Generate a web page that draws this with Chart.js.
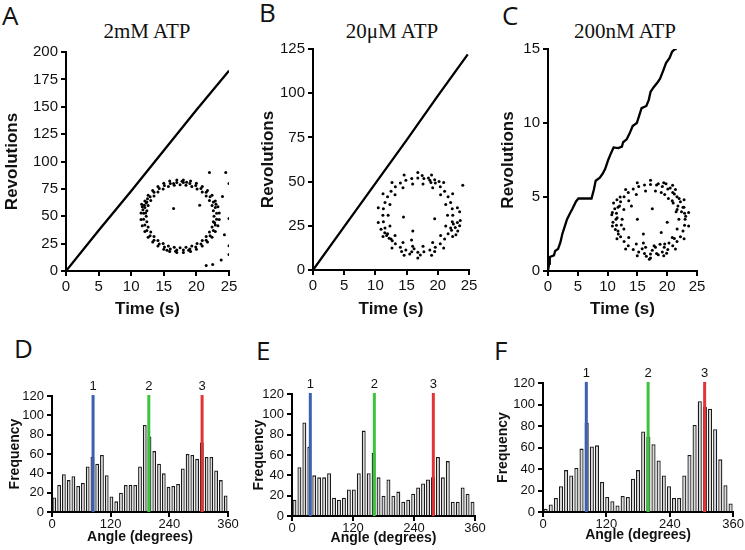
<!DOCTYPE html>
<html>
<head>
<meta charset="utf-8">
<script src="https://cdn.jsdelivr.net/npm/chart.js@4.4.1/dist/chart.umd.min.js"></script>
<style>
body{margin:0;background:#fff;width:745px;height:550px;position:relative;overflow:hidden}
canvas{position:absolute}
.lt{position:absolute;font-family:"Open Sans",sans-serif;font-size:26px;line-height:1;color:#111}
.tt{position:absolute;font-family:"Liberation Serif",serif;font-size:21px;line-height:1;color:#111;transform:translateX(-50%);white-space:nowrap}
</style>
</head>
<body>
<div class="lt" style="left:2px;top:2px">A</div>
<div class="lt" style="left:259px;top:-1px">B</div>
<div class="lt" style="left:502px;top:2px">C</div>
<div class="lt" style="left:14px;top:335px">D</div>
<div class="lt" style="left:256px;top:337px">E</div>
<div class="lt" style="left:494px;top:337px">F</div>
<div class="tt" style="left:147px;top:21px">2mM ATP</div>
<div class="tt" style="left:392px;top:21px">20μM ATP</div>
<div class="tt" style="left:625px;top:21px">200nM ATP</div>

<canvas id="cA"></canvas>
<canvas id="cB"></canvas>
<canvas id="cC"></canvas>
<canvas id="cD"></canvas>
<canvas id="cE"></canvas>
<canvas id="cF"></canvas>

<script>
// revolutions vs time traces
var traceA = [[0,0],[5,37],[10,73],[15,110],[20,147],[25,183]];
var traceB = [[0,0],[5,24.5],[10,49],[15,73.5],[20,98.5],[24.8,122]];
var traceC = [[0,0],[0.2,0.5],[0.3,0.95],[1,1.06],[1.2,1.35],[1.7,1.5],[2.1,1.96],[2.4,2.5],[2.8,3],[3.2,3.5],[3.7,3.9],[4.1,4.2],[4.7,4.7],[5.1,4.9],[6.5,4.9],[7.3,4.9],[7.7,5.5],[8.0,6.1],[8.7,6.3],[9.2,6.6],[9.6,6.9],[10.1,7.5],[10.5,7.9],[11,8.35],[11.8,8.3],[12.4,8.4],[12.6,8.7],[13.2,8.9],[13.7,9.3],[14.2,9.8],[14.9,10],[15.3,10.5],[15.7,11],[16.5,11.15],[16.9,11.55],[17.2,12.1],[17.7,12.4],[18.3,12.7],[18.8,13],[19.3,13.5],[19.8,14.05],[20.4,14.4],[20.8,14.8],[21.3,15],[21.6,15]];

// inset rings (in each panel's axis units)
var ringA = [[22.7,50],[22.6,55],[22.4,59.9],[22,64.4],[21.5,68.5],[20.9,72.1],[20.1,74.9],[19.3,77.1],[18.4,78.4],[17.5,78.8],[16.6,78.4],[15.7,77.1],[14.9,74.9],[14.1,72.1],[13.5,68.5],[13,64.4],[12.6,59.9],[12.4,55],[12.3,50],[12.4,45],[12.6,40.1],[13,35.6],[13.5,31.5],[14.1,27.9],[14.9,25.1],[15.7,22.9],[16.6,21.6],[17.5,21.2],[18.4,21.6],[19.3,22.9],[20.1,25.1],[20.9,27.9],[21.5,31.5],[22,35.6],[22.4,40.1],[22.6,45],
  [23.5,52.9],[23.3,58.6],[22.9,64],[22.4,69.1],[21.7,73.5],[20.9,77.2],[20,80.1],[19.1,82.1],[18,83.1],[17,83.1],[15.9,82.1],[15,80.1],[14.1,77.2],[13.3,73.5],[12.6,69.1],[12.1,64],[11.7,58.6],[11.5,52.9],[11.5,47.1],[11.7,41.4],[12.1,36],[12.6,30.9],[13.3,26.5],[14.1,22.8],[15,19.9],[15.9,17.9],[17,16.9],[18,16.9],[19.1,17.9],[20,19.9],[20.9,22.8],[21.7,26.5],[22.4,30.9],[22.9,36],[23.3,41.4],[23.5,47.1],
  [23.1,52.7],[22.9,58],[22.6,63.1],[22.1,67.8],[21.5,71.9],[20.7,75.4],[19.9,78.1],[19,79.9],[18,80.9],[17,80.9],[16,79.9],[15.1,78.1],[14.3,75.4],[13.5,71.9],[12.9,67.8],[12.4,63.1],[12.1,58],[11.9,52.7],[11.9,47.3],[12.1,42],[12.4,36.9],[12.9,32.2],[13.5,28.1],[14.3,24.6],[15.1,21.9],[16,20.1],[17,19.1],[18,19.1],[19,20.1],[19.9,21.9],[20.7,24.6],[21.5,28.1],[22.1,32.2],[22.6,36.9],[22.9,42],[23.1,47.3],
  [12.0,60],[12.3,62],[11.8,56],[12.5,66],[12.2,53],[11.6,61],[16.5,80],[18.5,81],[17.8,82],[15.5,19],[16.8,18],[18.8,19],[22.8,44],[23,61],
  [24.5,90],[22,90],[25,80],[24,68],[25,48],[25,23],[25,15],[21.5,5],[22.5,6],[20.5,60],[16.5,57],[24.3,33],[23.8,10]];
var ringB = [[21.56,31],[21.27,37.1],[20.45,42.5],[19.18,46.5],[17.63,48.6],[15.97,48.6],[14.42,46.5],[13.15,42.5],[12.33,37.1],[12.04,31],[12.33,24.9],[13.15,19.5],[14.42,15.5],[15.97,13.4],[17.63,13.4],[19.18,15.5],[20.45,19.5],[21.27,24.9],
  [23.14,35.2],[22.38,43.1],[20.94,49.5],[19,53.7],[16.8,55.15],[14.6,53.7],[12.66,49.5],[11.22,43.1],[10.46,35.2],[10.46,26.8],[11.22,18.9],[12.66,12.5],[14.6,8.3],[16.8,6.85],[19,8.3],[20.94,12.5],[22.38,18.9],[23.14,26.8],
  [22.32,34.65],[21.65,41.5],[20.4,47.1],[18.72,50.7],[16.8,52],[14.88,50.7],[13.2,47.1],[11.95,41.5],[11.28,34.65],[11.28,27.35],[11.95,20.5],[13.2,14.9],[14.88,11.3],[16.8,10],[18.72,11.3],[20.4,14.9],[21.65,20.5],[22.32,27.35],
  [22.4,31],[22.06,38.2],[21.09,44.5],[19.6,49.2],[17.77,51.7],[15.83,51.7],[14,49.2],[12.51,44.5],[11.54,38.2],[11.2,31],[11.54,23.8],[12.51,17.5],[14,12.8],[15.83,10.3],[17.77,10.3],[19.6,12.8],[21.09,17.5],[22.06,23.8],
  [22.8,24],[23.2,22],[22.5,26],[23.5,25],[22.9,20],[23.6,28],[22.2,22.5],[11.5,21],[12.2,18],[10.9,23],[12.7,16.5],[11.8,19.5],[18.5,52],[19.5,51],[17.5,53.5],[20.2,50],[18.9,49.5],[15.5,9],[17.2,8.5],[19.5,10.5],[16.2,12],[14.2,10.5],[16,22],[14.5,30],[19.5,29],[15.8,17],[24,48],[23.5,33]];
var ringC = [[21.96,3.5],[21.67,4.16],[20.85,4.74],[19.58,5.17],[18.03,5.4],[16.37,5.4],[14.82,5.17],[13.55,4.74],[12.73,4.16],[12.44,3.5],[12.73,2.84],[13.55,2.26],[14.82,1.83],[16.37,1.6],[18.03,1.6],[19.58,1.83],[20.85,2.26],[21.67,2.84],
  [22.91,3.91],[22.22,4.68],[20.93,5.3],[19.18,5.71],[17.2,5.85],[15.22,5.71],[13.47,5.3],[12.18,4.68],[11.49,3.91],[11.49,3.09],[12.18,2.32],[13.47,1.7],[15.22,1.29],[17.2,1.15],[19.18,1.29],[20.93,1.7],[22.22,2.32],[22.91,3.09],
  [23,3.5],[22.65,4.3],[21.64,5.01],[20.1,5.54],[18.21,5.81],[16.19,5.81],[14.3,5.54],[12.76,5.01],[11.75,4.3],[11.4,3.5],[11.75,2.7],[12.76,1.99],[14.3,1.46],[16.19,1.19],[18.21,1.19],[20.1,1.46],[21.64,1.99],[22.65,2.7],
  [23.6,3.96],[22.83,4.82],[21.38,5.51],[19.42,5.97],[17.2,6.13],[14.98,5.97],[13.02,5.51],[11.57,4.82],[10.8,3.96],[10.8,3.04],[11.57,2.18],[13.02,1.49],[14.98,1.03],[17.2,0.87],[19.42,1.03],[21.38,1.49],[22.83,2.18],[23.6,3.04],
  [20.5,5.6],[21.2,5.2],[19.8,5.9],[22,4.9],[21.8,4.4],[20.2,4.9],[22.4,4],[19,5.3],[21,4.6],[22.8,4.3],[18.5,5.9],[20.9,5.8],[21.5,4],[23.1,3.7],
  [11.2,4.2],[11.6,3.6],[10.9,3.3],[12,4.4],[11.3,2.8],[12.3,3.1],[11,4.6],[12.1,5],[11.8,2.5],[10.7,3.8],
  [16.5,1],[17.5,1.4],[18.5,1.1],[19.5,1.6],[15.8,1.5],[17,0.8],[18.8,1.8],[20.3,1.9],[16,1.9],[19.9,1.2],[17.8,1.7],[21.2,2.2],
  [15,3.5],[17.5,4.2],[19,2.6],[16,2.5],[20,3.3],[14,4.4]];

// angle histograms (37 bins over 0-360)
var histD = [15,28,39,33,37,27,30,47,57,50,59,38,16,11,20,28,28,28,47,90,78,63,50,40,26,27,29,45,60,59,55,72,57,57,43,33,17];
var histE = [16,48,92,68,40,38,38,42,18,16,18,26,26,42,84,42,62,38,20,36,20,24,14,16,22,28,32,36,38,58,38,54,14,14,28,22,14];
var histF = [3,7,13,24,39,34,41,59,83,61,62,28,14,10,6,15,14,31,39,75,70,63,48,34,24,13,13,34,53,81,103,98,96,77,49,25,8];

var markD = [84,198,307];
var markE = [36,162,278];
var markF = [82,199,306];
var markLabels = ['1','2','3'];
var markColors = ['#3b5fb3','#3cc43c','#e23434'];
var markTop = 121;

Chart.defaults.font.family = '"Liberation Sans", Arial, sans-serif';
Chart.defaults.color = '#111';

function toXY(arr){ return arr.map(function(p){ return {x:p[0], y:p[1]}; }); }

var markerPlugin = {
  id: 'markers',
  afterDatasetsDraw: function(chart, args, opts){
    if(!opts.angles) return;
    var ctx = chart.ctx, x = chart.scales.x, y = chart.scales.y;
    opts.angles.forEach(function(a, i){
      var px = x.getPixelForValue(a);
      var top = y.getPixelForValue(markTop);
      ctx.save();
      ctx.strokeStyle = markColors[i];
      ctx.lineWidth = 3;
      ctx.beginPath();
      ctx.moveTo(px, y.getPixelForValue(0));
      ctx.lineTo(px, top);
      ctx.stroke();
      ctx.fillStyle = '#111';
      ctx.font = '13px "Liberation Sans", Arial';
      ctx.textAlign = 'center';
      ctx.textBaseline = 'bottom';
      ctx.fillText(markLabels[i], px, top - 2);
      ctx.restore();
    });
  }
};

// place a canvas so that its chart area lands on [l,t,r,b] of the page
function setup(id, left, top, w, h, area){
  var c = document.getElementById(id);
  c.width = w; c.height = h;
  c.style.left = left + 'px'; c.style.top = top + 'px';
  return {
    ctx: c,
    yW: area[0] - left,
    padTop: area[1] - top,
    padRight: left + w - area[2],
    xH: top + h - area[3]
  };
}

function axisX(min, max, step, title, tickSize, titleSize, fixH, tickPad){
  return {
    type: 'linear', min: min, max: max, offset: false,
    ticks: {stepSize: step, font: {size: tickSize, lineHeight: 1}, padding: tickPad, maxRotation: 0, color: '#111'},
    grid: {display: true, drawOnChartArea: false, drawTicks: true, tickLength: 5, color: '#000', lineWidth: 2, offset: false},
    border: {display: true, color: '#000', width: 2},
    title: {display: true, text: title, font: {size: titleSize, weight: 'bold'}, padding: {top: 0, bottom: 2}, color: '#111'},
    afterFit: function(s){ s.height = fixH; }
  };
}
function axisY(min, max, step, title, tickSize, titleSize, fixW){
  return {
    min: min, max: max,
    ticks: {stepSize: step, font: {size: tickSize}, padding: 3, color: '#111'},
    grid: {display: true, drawOnChartArea: false, drawTicks: true, tickLength: 5, color: '#000', lineWidth: 2},
    border: {display: true, color: '#000', width: 2},
    title: {display: true, text: title, font: {size: titleSize, weight: 'bold'}, padding: {top: 2, bottom: 0}, color: '#111'},
    afterFit: function(s){ s.width = fixW; }
  };
}

function topChart(id, left, top, w, h, area, trace, ring, yMax, yStep){
  var g = setup(id, left, top, w, h, area);
  new Chart(g.ctx, {
    type: 'scatter',
    data: {datasets: [
      {data: toXY(trace), showLine: true, borderColor: '#000', borderWidth: 2.3, pointRadius: 0, tension: 0},
      {data: toXY(ring), pointRadius: 1.5, pointBackgroundColor: '#000', pointBorderWidth: 0, showLine: false}
    ]},
    options: {
      responsive: false, animation: false,
      layout: {padding: {top: g.padTop, right: g.padRight, left: 0, bottom: 0}},
      plugins: {legend: {display: false}, tooltip: {enabled: false}},
      scales: {
        x: axisX(0, 25, 5, 'Time (s)', 15, 17, g.xH, 3),
        y: axisY(0, yMax, yStep, 'Revolutions', 15, 17, g.yW)
      }
    }
  });
}

function histChart(id, left, top, w, h, area, vals, marks){
  var g = setup(id, left, top, w, h, area);
  var pts = vals.map(function(v, i){ return {x: (i + 0.5) * 360 / vals.length, y: v}; });
  new Chart(g.ctx, {
    type: 'bar',
    data: {datasets: [{data: pts, backgroundColor: '#d9d9d9', borderColor: '#1a1a1a', borderWidth: 1.3, barPercentage: 0.8, categoryPercentage: 1}]},
    plugins: [markerPlugin],
    options: {
      responsive: false, animation: false,
      layout: {padding: {top: g.padTop, right: g.padRight, left: 0, bottom: 0}},
      plugins: {legend: {display: false}, tooltip: {enabled: false}, markers: {angles: marks}},
      scales: {
        x: axisX(0, 360, 120, 'Angle (degrees)', 13, 14, g.xH, 1),
        y: axisY(0, 120, 20, 'Frequency', 13, 14, g.yW)
      }
    }
  });
}

topChart('cA', 0, 0, 245, 322, [66, 52, 229, 271], traceA, ringA, 200, 25);
topChart('cB', 256, 0, 234, 322, [313, 49, 469, 270], traceB, ringB, 125, 25);
topChart('cC', 496, 0, 249, 322, [548, 49, 697, 271], traceC, ringC, 15, 5);

histChart('cD', 5, 330, 240, 218, [52, 396, 228, 512], histD, markD);
histChart('cE', 249, 330, 241, 219, [292, 394, 475, 516], histE, markE);
histChart('cF', 493, 320, 252, 226, [543, 383, 736, 512], histF, markF);
</script>
</body>
</html>
